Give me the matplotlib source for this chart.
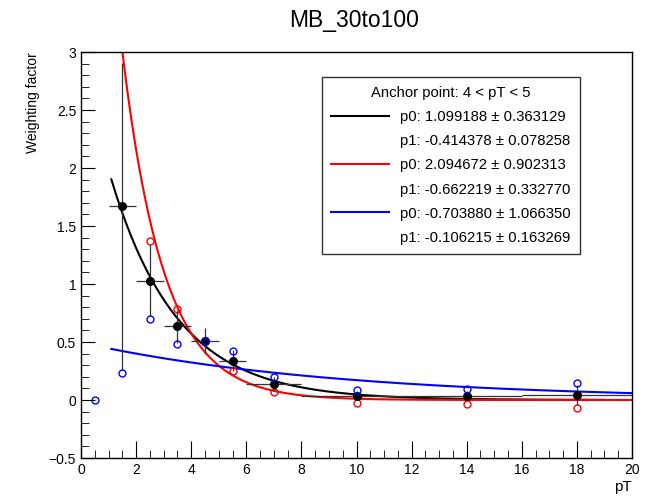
import numpy as np
import matplotlib
matplotlib.use('Agg')
import matplotlib.pyplot as plt
from matplotlib.ticker import MultipleLocator, FuncFormatter
from matplotlib.lines import Line2D

plt.rcParams['font.family'] = ['Liberation Sans', 'DejaVu Sans']

# Measured weighting factors (black, with errors)
pt_bins = [1.5, 2.5, 3.5, 4.5, 5.5, 7, 10, 14, 18]
pt_half_width = [0.5, 0.5, 0.5, 0.5, 0.5, 1, 2, 2, 2]
w_black = [1.675, 1.03, 0.635, 0.51, 0.34, 0.135, 0.037, 0.037, 0.043]
w_black_lo = [1.42, 0.31, 0.14, 0.11, 0.09, 0.06, 0.04, 0.04, 0.09]
w_black_hi = [1.23, 0.31, 0.14, 0.11, 0.09, 0.06, 0.04, 0.04, 0.09]

# Variations (open circles)
pt_red = [2.5, 3.5, 4.5, 5.5, 7, 10, 14, 18]
w_red = [1.37, 0.787, 0.51, 0.25, 0.066, -0.023, -0.035, -0.066]
pt_blue = [0.5, 1.5, 2.5, 3.5, 4.5, 5.5, 7, 10, 14, 18]
w_blue = [0.0, 0.235, 0.695, 0.48, 0.51, 0.425, 0.2, 0.086, 0.095, 0.15]

# Fit results: f(x) = exp(p0 + p1*x)
fit_colors = ['black', 'red', 'blue']
fit_p0 = [1.099188, 2.094672, -0.703880]
fit_p0_err = [0.363129, 0.902313, 1.066350]
fit_p1 = [-0.414378, -0.662219, -0.106215]
fit_p1_err = [0.078258, 0.332770, 0.163269]
fit_range = [(1.1, 19.0), (1.5, 20.0), (1.1, 20.0)]

fig = plt.figure(figsize=(6.45, 4.97), dpi=100)
ax = fig.add_axes([81 / 645, 1 - 458 / 497, 551 / 645, 406 / 497])

# fit curves
for c, p0, p1, (lo, hi) in zip(fit_colors, fit_p0, fit_p1, fit_range):
    xs = np.linspace(lo, hi, 200)
    ax.plot(xs, np.exp(p0 + p1 * xs), color=c, lw=1.5, zorder=2)

ax.plot(pt_red, w_red, 'o', mfc='none', mec='red', ms=5, mew=1.0, zorder=3)
ax.errorbar(pt_bins, w_black, xerr=pt_half_width, yerr=[w_black_lo, w_black_hi],
            fmt='o', color='black', ms=5.5, ecolor='#333333', elinewidth=0.9,
            capsize=0, zorder=4)
ax.plot(pt_blue, w_blue, 'o', mfc='none', mec='blue', ms=5, mew=1.0, zorder=5)

ax.set_xlim(0, 20)
ax.set_ylim(-0.5, 3)
ax.xaxis.set_major_locator(MultipleLocator(2))
ax.xaxis.set_minor_locator(MultipleLocator(0.5))
ax.yaxis.set_major_locator(MultipleLocator(0.5))
ax.yaxis.set_minor_locator(MultipleLocator(0.1))
ax.tick_params(which='both', direction='in', top=False, right=False, labelsize=10)
ax.tick_params(axis='x', which='major', length=12)
ax.tick_params(axis='x', which='minor', length=6)
ax.tick_params(axis='y', which='major', length=10)
ax.tick_params(axis='y', which='minor', length=6)
ax.yaxis.set_major_formatter(FuncFormatter(lambda v, p: f'{v:g}'.replace('-', '\u2212')))
ax.xaxis.set_major_formatter(FuncFormatter(lambda v, p: f'{v:g}'))
for s in ax.spines.values():
    s.set_linewidth(1.0)

ax.set_xlabel('pT', fontsize=11, loc='right', labelpad=2)
ax.set_ylabel('Weighting factor', fontsize=10, loc='top', labelpad=6)
fig.text(354 / 645, 1 - 20 / 497, 'MB_30to100', fontsize=16.5, ha='center', va='center')

# legend box
handles, labels = [], []
for c, p0, e0, p1, e1 in zip(fit_colors, fit_p0, fit_p0_err, fit_p1, fit_p1_err):
    handles.append(Line2D([], [], color=c, lw=1.5))
    labels.append(f'p0: {p0:.6f} \u00b1 {e0:.6f}')
    handles.append(Line2D([], [], color='none', lw=0))
    labels.append(f'p1: {p1:.6f} \u00b1 {e1:.6f}')
leg = ax.legend(handles, labels, loc='upper left', bbox_to_anchor=(322 / 645, 1 - 77 / 497),
                bbox_transform=fig.transFigure, fontsize=10.75, frameon=True, fancybox=False,
                edgecolor='black', handlelength=3.9, handletextpad=0.75,
                labelspacing=0.68, borderpad=0.6, borderaxespad=0,
                title='Anchor point: 4 < pT < 5', title_fontsize=10.75)
leg.get_frame().set_linewidth(1.0)

fig.savefig('out.png', dpi=100)
